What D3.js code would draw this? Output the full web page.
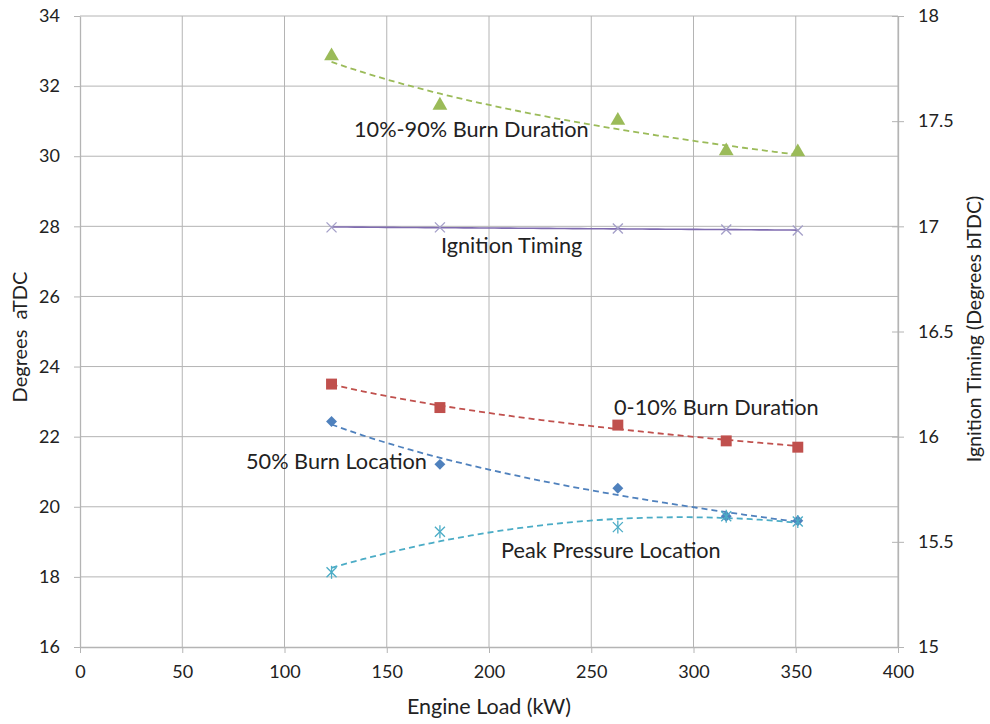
<!DOCTYPE html>
<html>
<head>
<meta charset="utf-8">
<script src="https://cdn.jsdelivr.net/npm/d3@7"></script>
<style>
  html, body { margin: 0; padding: 0; background: #fff; }
  svg { display: block; font-family: Lato, "Open Sans", sans-serif; }
</style>
</head>
<body>
<svg id="chart" width="990" height="724"></svg>
<script>
// Engine load test points (kW)
const engineLoad = [123, 176, 263, 316, 351];

// Crank-angle metrics, degrees aTDC (left axis)
const burn10to90 = [32.86, 31.45, 31.02, 30.15, 30.12];
const burn0to10 = [23.50, 22.83, 22.33, 21.88, 21.70];
const burn50Location = [22.43, 21.21, 20.53, 19.73, 19.60];
const peakPressureLocation = [18.13, 19.29, 19.42, 19.73, 19.58];

// Ignition timing, degrees bTDC (right axis)
const ignitionTiming = [16.995, 16.995, 16.99, 16.985, 16.98];

// Axis ticks
const xTicks = [0, 50, 100, 150, 200, 250, 300, 350, 400];
const leftTicks = [16, 18, 20, 22, 24, 26, 28, 30, 32, 34];
const rightTicks = [15, 15.5, 16, 16.5, 17, 17.5, 18];

const svg = d3.select("#chart");
const plot = { left: 80, right: 898, top: 16, bottom: 647 };
const gridColor = "#b4b4b4";
const textColor = "#222";

const x = d3.scaleLinear().domain([0, 400]).range([plot.left, plot.right]);
const yL = d3.scaleLinear().domain([16, 34]).range([plot.bottom, plot.top]);
const yR = d3.scaleLinear().domain([15, 18]).range([plot.bottom, plot.top]);

// Gridlines
const grid = svg.append("g");
grid.selectAll("line.v").data(xTicks.slice(1)).join("line")
  .attr("x1", d => x(d)).attr("x2", d => x(d))
  .attr("y1", plot.top).attr("y2", plot.bottom)
  .attr("stroke", gridColor).attr("stroke-width", 1);
grid.selectAll("line.h").data(leftTicks.slice(1)).join("line")
  .attr("x1", plot.left).attr("x2", plot.right)
  .attr("y1", d => yL(d)).attr("y2", d => yL(d))
  .attr("stroke", gridColor).attr("stroke-width", 1);

// Axes
function styleAxis(g) {
  g.select(".domain").attr("stroke", gridColor).attr("stroke-width", 1.3);
  g.selectAll(".tick line").attr("stroke", gridColor);
  g.selectAll(".tick text").attr("fill", textColor).attr("font-size", 18)
    .attr("font-family", "Lato, 'Open Sans', sans-serif");
}
svg.append("g").attr("transform", `translate(0,${plot.bottom})`)
  .call(d3.axisBottom(x).tickValues(xTicks).tickSize(6).tickPadding(12).tickSizeOuter(0))
  .call(styleAxis);
svg.append("g").attr("transform", `translate(${plot.left},0)`)
  .call(d3.axisLeft(yL).tickValues(leftTicks).tickSize(6).tickPadding(14).tickSizeOuter(0))
  .call(styleAxis);
const rAxis = svg.append("g").attr("transform", `translate(${plot.right},0)`)
  .call(d3.axisRight(yR).tickValues(rightTicks).tickFormat(d3.format("")).tickSize(6).tickPadding(14).tickSizeOuter(0))
  .call(styleAxis);
rAxis.selectAll(".tick line").attr("x1", -6);

// Least-squares polynomial fit, optionally on ln(x) for logarithmic trendlines
function fitCurve(xs, ys, order, logX) {
  const tx = logX ? xs.map(v => Math.log(v)) : xs;
  const n = order + 1;
  const A = Array.from({ length: n }, () => new Array(n + 1).fill(0));
  for (let r = 0; r < n; r++) {
    for (let c = 0; c < n; c++) A[r][c] = d3.sum(tx, v => Math.pow(v, r + c));
    A[r][n] = d3.sum(tx, (v, i) => ys[i] * Math.pow(v, r));
  }
  for (let i = 0; i < n; i++) {
    let p = i;
    for (let k = i + 1; k < n; k++) if (Math.abs(A[k][i]) > Math.abs(A[p][i])) p = k;
    [A[i], A[p]] = [A[p], A[i]];
    for (let k = i + 1; k < n; k++) {
      const f = A[k][i] / A[i][i];
      for (let j = i; j <= n; j++) A[k][j] -= f * A[i][j];
    }
  }
  const coef = new Array(n).fill(0);
  for (let i = n - 1; i >= 0; i--) {
    let s = A[i][n];
    for (let j = i + 1; j < n; j++) s -= A[i][j] * coef[j];
    coef[i] = s / A[i][i];
  }
  return v => {
    const t = logX ? Math.log(v) : v;
    return coef.reduce((acc, c, k) => acc + c * Math.pow(t, k), 0);
  };
}

function trend(values, yScale, order, logX, color, dashed) {
  const f = fitCurve(engineLoad, values, order, logX);
  const [lo, hi] = d3.extent(engineLoad);
  const xs = d3.range(lo, hi + 0.001, (hi - lo) / 60);
  svg.append("path")
    .attr("d", d3.line().x(d => x(d)).y(d => yScale(f(d)))(xs))
    .attr("fill", "none").attr("stroke", color).attr("stroke-width", dashed ? 1.8 : 1.6)
    .attr("stroke-dasharray", dashed ? "6,4" : null);
}

const colors = {
  green: "#9bbb59", red: "#c0504d", blue: "#4f81bd",
  cyan: "#4bacc6", purple: "#7f6bb0", xMark: "#a49fc8"
};

// Trendlines
trend(burn10to90, yL, 1, true, colors.green, true);
trend(ignitionTiming, yR, 1, false, colors.purple, false);
trend(burn0to10, yL, 1, true, colors.red, true);
trend(burn50Location, yL, 1, true, colors.blue, true);
trend(peakPressureLocation, yL, 2, false, colors.cyan, true);

// Markers
const pts = (vals, yScale) => engineLoad.map((l, i) => [x(l), yScale(vals[i])]);

svg.append("g").selectAll("path").data(pts(burn10to90, yL)).join("path")
  .attr("d", d3.symbol(d3.symbolTriangle, 95)())
  .attr("transform", d => `translate(${d[0]},${d[1]})`)
  .attr("fill", colors.green);

svg.append("g").selectAll("path").data(pts(burn0to10, yL)).join("path")
  .attr("d", d3.symbol(d3.symbolSquare, 120)())
  .attr("transform", d => `translate(${d[0]},${d[1]})`)
  .attr("fill", colors.red);

svg.append("g").selectAll("path").data(pts(burn50Location, yL)).join("path")
  .attr("d", d3.symbol(d3.symbolSquare, 60)())
  .attr("transform", d => `translate(${d[0]},${d[1]}) rotate(45)`)
  .attr("fill", colors.blue);

// Asterisk markers
const star = svg.append("g").selectAll("g").data(pts(peakPressureLocation, yL)).join("g")
  .attr("transform", d => `translate(${d[0]},${d[1]})`)
  .attr("stroke", colors.cyan).attr("stroke-width", 1.3);
star.append("line").attr("x1", -5).attr("y1", -5).attr("x2", 5).attr("y2", 5);
star.append("line").attr("x1", -5).attr("y1", 5).attr("x2", 5).attr("y2", -5);
star.append("line").attr("x1", 0).attr("y1", -6.5).attr("x2", 0).attr("y2", 6.5);

const cross = svg.append("g").selectAll("g").data(pts(ignitionTiming, yR)).join("g")
  .attr("transform", d => `translate(${d[0]},${d[1]})`)
  .attr("stroke", colors.xMark).attr("stroke-width", 1.3);
cross.append("line").attr("x1", -5).attr("y1", -5).attr("x2", 5).attr("y2", 5);
cross.append("line").attr("x1", -5).attr("y1", 5).attr("x2", 5).attr("y2", -5);

// Series labels
const labels = [
  { text: "10%-90% Burn Duration", x: 354, y: 137 },
  { text: "Ignition Timing", x: 441, y: 253 },
  { text: "0-10% Burn Duration", x: 614, y: 415 },
  { text: "50% Burn Location", x: 246, y: 469 },
  { text: "Peak Pressure Location", x: 501, y: 558 }
];
svg.append("g").selectAll("text").data(labels).join("text")
  .attr("x", d => d.x).attr("y", d => d.y)
  .attr("font-size", 21.7).attr("fill", textColor)
  .text(d => d.text);

// Axis titles
svg.append("text").attr("x", 489).attr("y", 714).attr("text-anchor", "middle")
  .attr("font-size", 21.5).attr("fill", textColor).text("Engine Load (kW)");
svg.append("text").attr("transform", "translate(27,337) rotate(-90)").attr("text-anchor", "middle")
  .attr("font-size", 20).attr("fill", textColor).attr("xml:space", "preserve").text("Degrees  aTDC");
svg.append("text").attr("transform", "translate(981,329) rotate(-90)").attr("text-anchor", "middle")
  .attr("font-size", 19.5).attr("fill", textColor).text("Ignition Timing (Degrees bTDC)");
</script>
</body>
</html>
